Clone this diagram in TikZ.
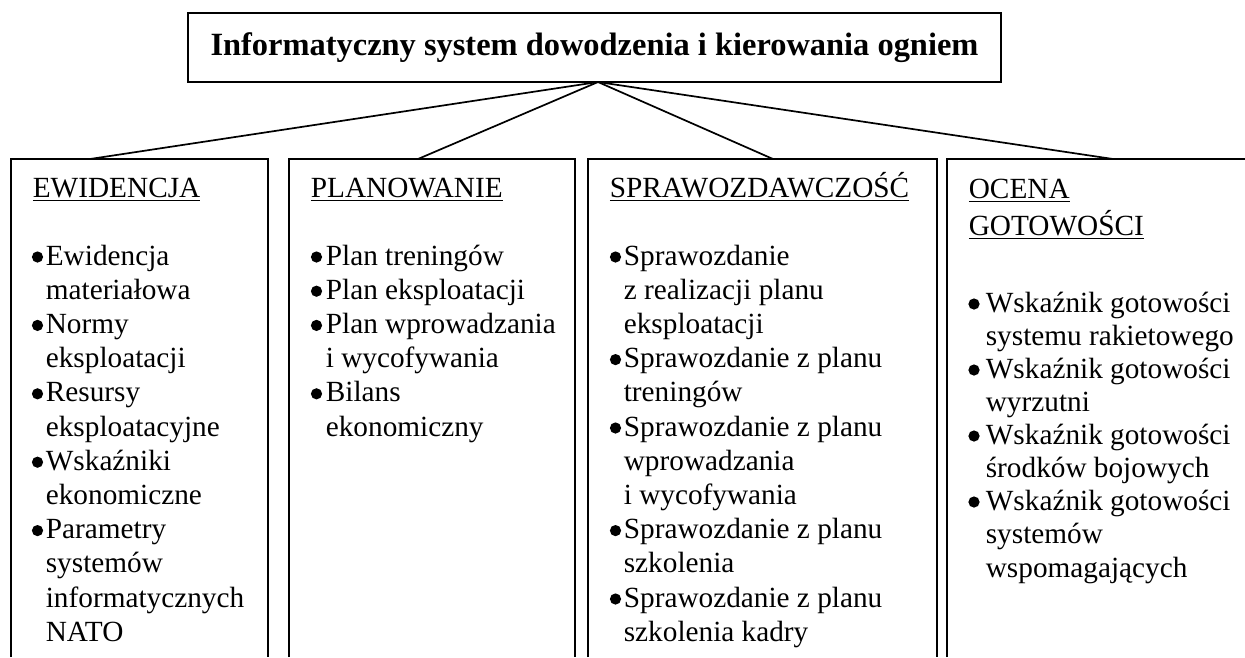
\documentclass[tikz,border=0pt]{standalone}
\usepackage{fontspec}
\setmainfont{Liberation Serif}
\begin{document}
\begin{tikzpicture}[x=0.41pt,y=-0.41pt, line width=0.7pt,
  txt/.style={anchor=base west, inner sep=0pt, font=\fontsize{12}{14}\selectfont},
  dot/.style={circle, fill, draw=none, inner sep=0pt, minimum size=4.6pt},
  frame/.style={line width=0.7pt},
  link/.style={line width=0.7pt}]
\useasboundingbox (0,0) rectangle (1245,657);
% title
\node[draw, frame, minimum width=333.3pt, minimum height=28.3pt, inner sep=0pt,
  font=\bfseries\fontsize{13.3}{15}\selectfont] (title) at (594.5,47.5)
  {Informatyczny system dowodzenia i kierowania ogniem};
% open-bottom boxes
\draw[frame] (11,657) -- (11,159) -- (268,159) -- (268,657);
\draw[frame] (289,657) -- (289,159) -- (575,159) -- (575,657);
\draw[frame] (588,657) -- (588,159) -- (937,159) -- (937,657);
\draw[frame] (947,657) -- (947,159) -- (1245,159);
% connectors
\coordinate (apex) at (598,82);
\coordinate (t1) at (90,159);
\coordinate (t2) at (418,159);
\coordinate (t3) at (773,159);
\coordinate (t4) at (1113,159);
\foreach \k in {1,2,3,4} \draw[link] (apex) -- (t\k);
% headers
\node[txt] (h1) at (32,197) {\underline{EWIDENCJA}};
\node[txt] (h2) at (310,197) {\underline{PLANOWANIE}};
\node[txt] (h3) at (609,197) {\underline{SPRAWOZDAWCZOŚĆ}};
\node[txt] (h4a) at (968,198) {\underline{OCENA}};
\node[txt] (h4b) at (968,235) {\underline{GOTOWOŚCI}};
% box 1
\foreach \y/\t [count=\i] in {265/{Ewidencja}, 299.2/{materiałowa}, 333.4/{Normy},
  367.6/{eksploatacji}, 401.8/{Resursy}, 436/{eksploatacyjne}, 470.2/{Wskaźniki},
  504.4/{ekonomiczne}, 538.6/{Parametry}, 572.8/{systemów}, 607/{informatycznych},
  641.2/{NATO}}
  \node[txt] (a\i) at (45,\y) {\t};
\foreach \y [count=\i] in {265,333.4,401.8,470.2,538.6}
  \node[dot] (ab\i) at (37.5,\y-8) {};
% box 2
\foreach \y/\t [count=\i] in {265/{Plan treningów}, 299.2/{Plan eksploatacji},
  333.4/{Plan wprowadzania}, 367.6/{i wycofywania}, 401.8/{Bilans}, 436/{ekonomiczny}}
  \node[txt] (b\i) at (325,\y) {\t};
\foreach \y [count=\i] in {265,299.2,333.4,401.8}
  \node[dot] (bb\i) at (316.5,\y-8) {};
% box 3
\foreach \y/\t [count=\i] in {265/{Sprawozdanie}, 299.2/{z realizacji planu},
  333.4/{eksploatacji}, 367.6/{Sprawozdanie z planu}, 401.8/{treningów},
  436/{Sprawozdanie z planu}, 470.2/{wprowadzania}, 504.4/{i wycofywania},
  538.6/{Sprawozdanie z planu}, 572.8/{szkolenia}, 607/{Sprawozdanie z planu},
  641.2/{szkolenia kadry}}
  \node[txt] (c\i) at (623,\y) {\t};
\foreach \y [count=\i] in {265,367.6,436,538.6,607}
  \node[dot] (cb\i) at (615.5,\y-8) {};
% box 4
\foreach \y/\t [count=\i] in {312/{Wskaźnik gotowości}, 345/{systemu rakietowego},
  378/{Wskaźnik gotowości}, 411/{wyrzutni}, 444/{Wskaźnik gotowości},
  477/{środków bojowych}, 510/{Wskaźnik gotowości}, 543/{systemów},
  577/{wspomagających}}
  \node[txt] (d\i) at (985,\y) {\t};
\foreach \y [count=\i] in {312,378,444,510}
  \node[dot] (db\i) at (974,\y-8) {};
\end{tikzpicture}
\end{document}
